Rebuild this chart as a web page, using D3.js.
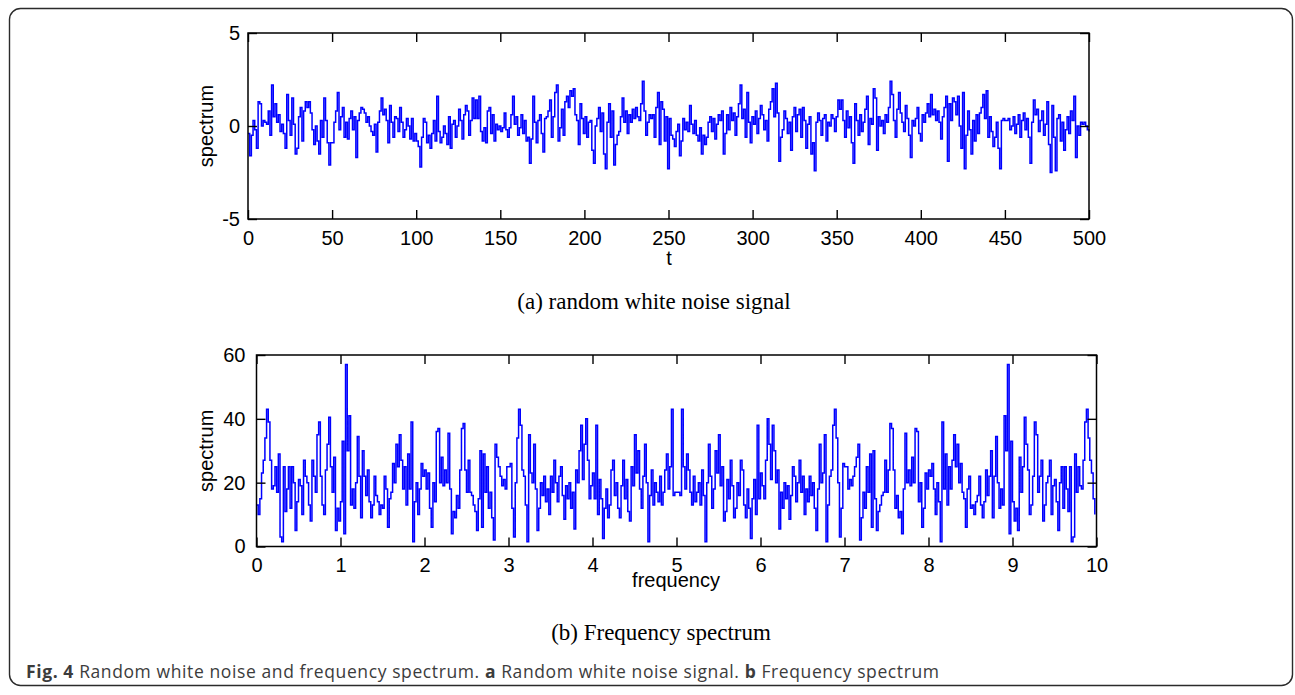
<html>
<head>
<meta charset="utf-8">
<title>Fig. 4 - white noise and spectrum</title>
<script src="https://cdn.jsdelivr.net/npm/d3@7"></script>
<style>
  body { margin: 0; background: #fff; }
  .tick text { font-family: "Liberation Sans", Arial, sans-serif; font-size: 20px; fill: #000; }
  .tick line { stroke: #000; stroke-width: 1.4; }
  .axis-label { font-family: "Liberation Sans", Arial, sans-serif; font-size: 20px; fill: #000; }
  .sub-caption { font-family: "Liberation Serif", "Times New Roman", serif; font-size: 23px; fill: #000; }
  .fig-caption { font-family: "Open Sans", "Noto Sans", sans-serif; font-size: 17.5px; letter-spacing: 0.6px; fill: #3c3c3c; }
</style>
</head>
<body>
<script>
// white noise signal, one value per sample (t = 0 .. 500)
var signal = [
  -0.4, -1.6, -0.5, 0.3, -0.2, -1.2, 1.3, 1.2, 0.0, 0.3,
  0.2, 0.1, 0.8, -0.5, 2.2, 0.5, 1.2, 0.2, 0.6, -0.3,
  0.1, -0.4, -1.2, 1.7, 0.3, -0.5, 1.5, 0.1, -1.5, -1.2,
  0.5, 1.0, -0.8, 0.8, 1.3, 1.0, 1.3, 0.7, -0.2, -1.0,
  0.0, -0.8, -1.5, 0.3, -0.6, 1.5, 0.3, -0.9, -2.1, -0.9,
  -0.9, 0.2, 0.8, 1.8, -0.2, 0.5, 1.0, -0.6, 0.2, -0.7,
  0.4, 0.8, -0.2, 0.5, -1.7, 0.3, 0.7, 1.0, 0.9, 0.7,
  0.2, 0.5, 0.0, -0.3, -0.5, 0.1, -1.4, 0.2, 0.8, 1.5,
  0.6, 0.9, 0.3, -0.9, 1.1, 0.2, -0.6, 0.5, 0.4, -0.3,
  1.0, 0.2, -0.6, -0.2, 0.4, 0.0, -0.7, 0.4, -0.8, -0.4,
  -0.8, -1.1, -2.2, -0.6, 0.4, 0.2, -0.9, -0.5, -1.2, -0.4,
  0.3, -0.8, 1.6, -0.3, -0.9, -0.6, 0.0, -0.4, -1.0, 0.5,
  -1.2, 0.1, 0.3, -0.6, 0.0, 0.9, 0.3, -0.7, 0.6, 1.1,
  0.8, -0.5, 0.3, 1.5, 0.4, 1.4, 0.4, 1.6, -0.3, -0.8,
  -0.1, -0.9, 0.8, 1.0, -0.4, 0.6, -0.8, 0.1, -0.2, 0.0,
  -0.3, -0.1, 0.7, -0.2, -0.6, -0.1, 0.6, 1.6, 0.1, 0.5,
  -0.5, -0.1, 0.6, -0.4, 0.3, -0.8, -0.6, -2.0, -0.7, 1.6,
  0.2, -0.9, 0.3, 0.6, -0.4, -1.4, 0.4, 0.5, 0.8, 1.4,
  -0.6, 0.5, 1.8, 2.2, -0.8, -0.1, 0.9, -0.5, 1.3, 1.6,
  1.0, 1.9, 1.6, 2.0, 0.6, 0.3, -1.0, 1.2, 0.4, -0.4,
  0.5, -0.6, 0.2, 0.3, -1.3, -2.0, 0.0, 0.4, 1.0, -0.3,
  0.7, -1.5, -2.3, 0.2, 1.2, -0.6, 0.8, -2.1, -1.0, -0.5,
  -0.3, 0.5, 1.5, 0.2, 0.8, -0.4, 0.6, 0.2, 0.9, 0.4,
  1.0, 0.5, 0.3, 1.2, 2.4, 0.8, -0.5, 0.2, 0.6, 0.4,
  0.6, -0.6, 1.0, 1.8, -1.0, 1.3, 0.9, -0.8, 0.5, -2.3,
  0.4, -0.5, -0.7, -1.1, -0.3, 0.1, -1.6, -0.8, 0.4, -0.2,
  0.2, -0.3, 1.1, 0.1, -0.4, 0.3, -0.5, -0.8, -0.1, -1.5,
  -0.5, -1.0, -0.6, 0.2, 0.5, -0.3, 0.4, -0.7, 0.1, 0.6,
  0.3, 0.8, -1.5, -0.4, 0.6, -0.2, 1.0, 0.3, 0.7, -0.5,
  0.5, 1.2, 2.2, 0.4, 0.9, -0.6, 1.8, 0.2, -0.9, 0.5,
  0.1, 0.8, -0.4, 0.4, 1.1, 0.6, -0.2, 0.3, -0.8, 0.9,
  1.3, 2.0, 0.5, 2.3, 0.7, -1.9, -0.6, -0.2, 0.8, 0.4,
  -0.4, 0.2, -1.3, 0.5, 1.0, -0.3, 0.6, 0.9, -0.6, 1.0,
  0.3, -1.2, 0.1, 0.5, -1.5, -0.9, -2.4, 0.2, 0.7, 0.3,
  -0.5, 0.4, 0.6, -0.8, 0.2, 0.0, 0.6, 0.4, -0.3, 0.5,
  1.4, 0.9, 1.4, 0.3, -0.6, 0.8, -0.1, 0.5, -0.9, -2.0,
  1.2, 0.3, -0.5, 0.6, -0.3, 0.2, 0.9, 1.6, -1.0, 0.4,
  0.1, 2.0, 1.5, -1.3, 0.5, 0.0, 0.3, -0.4, 0.6, 0.2,
  1.0, 2.4, 1.7, 0.3, -0.6, 0.9, 1.8, 0.7, 0.2, -0.3,
  1.1, 0.4, -0.5, -1.7, 0.3, 0.0, 0.4, 1.0, -0.4, -0.8,
  0.6, 0.2, 0.7, 1.2, 0.5, 1.7, 0.6, 0.9, 0.3, 0.8,
  0.2, -0.7, 0.5, 1.0, 1.6, -1.9, 1.2, 0.3, 1.5, 1.3,
  0.6, 1.6, 0.0, -1.2, 1.8, -2.3, -0.5, 0.8, -0.2, -1.5,
  0.3, -0.8, 0.6, -0.4, 0.7, 1.0, 1.7, 0.4, 1.9, -0.6,
  0.5, -0.3, -1.1, -0.6, 0.2, -1.2, -2.3, 0.3, 0.4, 0.3,
  0.3, 0.4, -0.2, 0.0, 0.5, -0.4, 0.1, 0.6, -0.6, 0.3,
  0.7, -0.2, 0.4, -0.6, -2.0, 0.2, 1.4, 0.6, 0.9, -0.3,
  0.3, 0.8, -0.5, 0.1, 1.3, -1.0, -2.5, 1.1, -0.6, -2.4,
  0.4, 0.6, -0.8, 0.2, -1.3, -0.2, 0.5, -0.4, 0.8, 0.3,
  1.6, -1.7, 0.0, -0.5, 0.2, 0.1, 0.2, 0.0, -0.2, -0.3
];

// magnitude spectrum, one value per 0.02 step of frequency (0 .. 9.98)
var spectrum = [
  13, 10, 15, 23, 27, 34, 43, 39, 27, 18,
  19, 25, 17, 29, 3, 1.5, 25, 11, 18, 25,
  12, 25, 20, 5, 14, 21, 19, 10, 27, 22,
  20, 13, 8, 27, 22, 17, 35, 39, 22, 13,
  10, 24, 32, 40.5, 25, 17, 28, 5, 12, 8,
  14, 33, 4, 57, 30, 41, 13, 18, 12, 20,
  34.5, 22, 9, 30, 22, 16, 24, 14, 9, 13,
  22, 16, 14, 10, 13, 12, 22, 18, 6, 15,
  17, 26, 20, 32, 25, 35, 27, 18, 25, 13,
  29, 18, 39, 1.5, 14, 20, 10, 18, 26, 22,
  24, 18, 23, 12, 6, 20, 14, 36, 37, 20,
  28, 19, 24, 20, 35.5, 18, 4, 11, 9, 16,
  12, 24, 37, 38.5, 24, 17, 27, 17, 16, 13,
  11, 5, 15, 30, 6, 29, 17, 25, 12, 17,
  9, 2, 32, 28, 25, 22, 19, 21, 18, 25,
  25, 26, 12, 3, 20, 34, 43, 38, 24, 22,
  13, 1.5, 35, 23, 20, 32, 18, 5, 12, 20,
  16, 22, 14, 18, 10, 22, 17, 27, 20, 14,
  22, 25, 16, 8.5, 19, 15, 20, 12, 17, 5.5,
  24, 20, 30, 38, 21, 32, 40, 27, 15, 19,
  23, 15, 38, 10, 21, 15, 2.5, 12, 18, 9,
  13, 24, 27, 16, 20, 12, 9, 19, 27, 15,
  21, 11, 8, 25, 19, 35, 23, 30, 18, 12,
  22, 32, 20, 1.5, 16, 24, 13, 20, 17, 14,
  22, 13, 17, 24, 29, 18, 25, 43, 16, 17,
  17,
  17, 16, 43, 25, 18, 29, 24, 17, 13, 22,
  14, 17, 20, 13, 24, 16, 1.5, 20, 32, 22,
  12, 18, 30, 23, 35, 19, 25, 8, 11, 21,
  15, 27, 19, 9, 12, 20, 16, 27, 24, 13,
  9, 18, 12, 2.5, 15, 21, 10, 38, 15, 23,
  19, 15, 27, 40, 32, 21, 38, 30, 20, 24,
  5.5, 17, 12, 20, 15, 19, 8.5, 16, 25, 22,
  14, 20, 27, 17, 22, 10, 18, 14, 22, 16,
  20, 12, 5, 18, 32, 20, 23, 35, 1.5, 13,
  22, 24, 38, 43, 34, 20, 3, 12, 26, 25,
  25, 18, 21, 19, 22, 25, 28, 32, 2, 9,
  17, 12, 25, 17, 29, 6, 30, 15, 5, 11,
  13, 16, 17, 27, 17, 24, 38.5, 37, 24, 12,
  16, 9, 11, 4, 18, 35.5, 20, 24, 19, 28,
  20, 37, 36, 14, 20, 6, 12, 23, 18, 24,
  22, 26, 18, 10, 20, 14, 1.5, 39, 18, 29,
  13, 25, 18, 27, 35, 25, 32, 20, 26, 17,
  15, 6, 18, 22, 12, 13, 10, 14, 16, 22,
  13, 9, 14, 24, 16, 22, 30, 9, 22, 34.5,
  20, 12, 18, 13, 41, 30, 57, 4, 33, 14,
  8, 12, 5, 28, 17, 25, 40.5, 32, 24, 10,
  13, 22, 39, 35, 17, 22, 27, 8, 13, 20,
  22, 27, 10, 19, 21, 14, 5, 20, 25, 12,
  25, 18, 11, 25, 1.5, 3, 29, 17, 25, 19,
  18, 27, 39, 43, 34, 27, 23, 15, 10
];

var tTicks = [0, 50, 100, 150, 200, 250, 300, 350, 400, 450, 500];
var signalTicks = [-5, 0, 5];
var freqTicks = [0, 1, 2, 3, 4, 5, 6, 7, 8, 9, 10];
var spectrumTicks = [0, 20, 40, 60];
var freqStep = 0.02;

var width = 1295, height = 695;
var tickLen = 9;
var plainNumber = function(d) { return String(d); }; // keeps the short "-" of the original

var svg = d3.select("body").append("svg")
    .attr("width", width)
    .attr("height", height);

// outer figure frame
svg.append("rect")
    .attr("x", 9.5).attr("y", 8.5)
    .attr("width", 1283).attr("height", 677)
    .attr("rx", 11).attr("ry", 11)
    .attr("fill", "none")
    .attr("stroke", "#2b2b2b")
    .attr("stroke-width", 1.4);

function drawPanel(p) {
  var x = d3.scaleLinear().domain(p.xDomain).range([p.left, p.right]);
  var y = d3.scaleLinear().domain(p.yDomain).range([p.bottom, p.top]);
  var g = svg.append("g");

  var line = d3.line()
      .curve(d3.curveStepAfter)
      .x(function(d) { return x(d.x); })
      .y(function(d) { return y(d.y); });

  g.append("path")
      .datum(p.points)
      .attr("fill", "none")
      .attr("stroke", "#0000ff")
      .attr("stroke-width", 1.5)
      .attr("d", line);

  // MATLAB style box with inward ticks on all four sides
  g.append("rect")
      .attr("x", p.left).attr("y", p.top)
      .attr("width", p.right - p.left).attr("height", p.bottom - p.top)
      .attr("fill", "none")
      .attr("stroke", "#000")
      .attr("stroke-width", 1.5);

  var bottomAxis = g.append("g")
      .attr("transform", "translate(0," + p.bottom + ")")
      .call(d3.axisBottom(x).tickValues(p.xTicks).tickSize(-tickLen).tickPadding(p.xPad).tickFormat(plainNumber));
  var topAxis = g.append("g")
      .attr("transform", "translate(0," + p.top + ")")
      .call(d3.axisTop(x).tickValues(p.xTicks).tickSize(-tickLen).tickFormat(""));
  var leftAxis = g.append("g")
      .attr("transform", "translate(" + p.left + ",0)")
      .call(d3.axisLeft(y).tickValues(p.yTicks).tickSize(-tickLen).tickPadding(p.yPad).tickFormat(plainNumber));
  var rightAxis = g.append("g")
      .attr("transform", "translate(" + p.right + ",0)")
      .call(d3.axisRight(y).tickValues(p.yTicks).tickSize(-tickLen).tickFormat(""));

  [bottomAxis, topAxis, leftAxis, rightAxis].forEach(function(a) {
    a.select(".domain").remove();
    a.attr("font-family", null).attr("font-size", null);
  });

  g.append("text")
      .attr("class", "axis-label")
      .attr("text-anchor", "middle")
      .attr("x", p.xLabelX).attr("y", p.xLabelY)
      .text(p.xLabel);

  g.append("text")
      .attr("class", "axis-label")
      .attr("text-anchor", "middle")
      .attr("transform", "translate(" + p.yLabelX + "," + ((p.top + p.bottom) / 2) + ") rotate(-90)")
      .text(p.yLabel);

  svg.append("text")
      .attr("class", "sub-caption")
      .attr("text-anchor", "middle")
      .attr("x", p.captionX).attr("y", p.captionY)
      .text(p.caption);
}

drawPanel({
  points: signal.map(function(v, i) { return { x: i * 500 / (signal.length - 1), y: v }; }),
  xDomain: [0, 500], yDomain: [-5, 5],
  xTicks: tTicks, yTicks: signalTicks,
  left: 248, right: 1089, top: 33, bottom: 219,
  xPad: 12, yPad: 8,
  xLabel: "t", xLabelX: 669, xLabelY: 265,
  yLabel: "spectrum", yLabelX: 213,
  caption: "(a) random white noise signal", captionX: 654, captionY: 309
});

drawPanel({
  points: spectrum.map(function(v, i) { return { x: i * freqStep, y: v }; }),
  xDomain: [0, 10], yDomain: [0, 60],
  xTicks: freqTicks, yTicks: spectrumTicks,
  left: 256.5, right: 1096.5, top: 355, bottom: 546.5,
  xPad: 11, yPad: 11,
  xLabel: "frequency", xLabelX: 676, xLabelY: 587,
  yLabel: "spectrum", yLabelX: 213,
  caption: "(b) Frequency spectrum", captionX: 661, captionY: 640
});

// figure caption with bold run-in labels
var cap = svg.append("text")
    .attr("class", "fig-caption")
    .attr("x", 26).attr("y", 678);
cap.append("tspan").attr("font-weight", "bold").text("Fig. 4");
cap.append("tspan").text(" Random white noise and frequency spectrum. ");
cap.append("tspan").attr("font-weight", "bold").text("a");
cap.append("tspan").text(" Random white noise signal. ");
cap.append("tspan").attr("font-weight", "bold").text("b");
cap.append("tspan").text(" Frequency spectrum");
</script>
</body>
</html>
